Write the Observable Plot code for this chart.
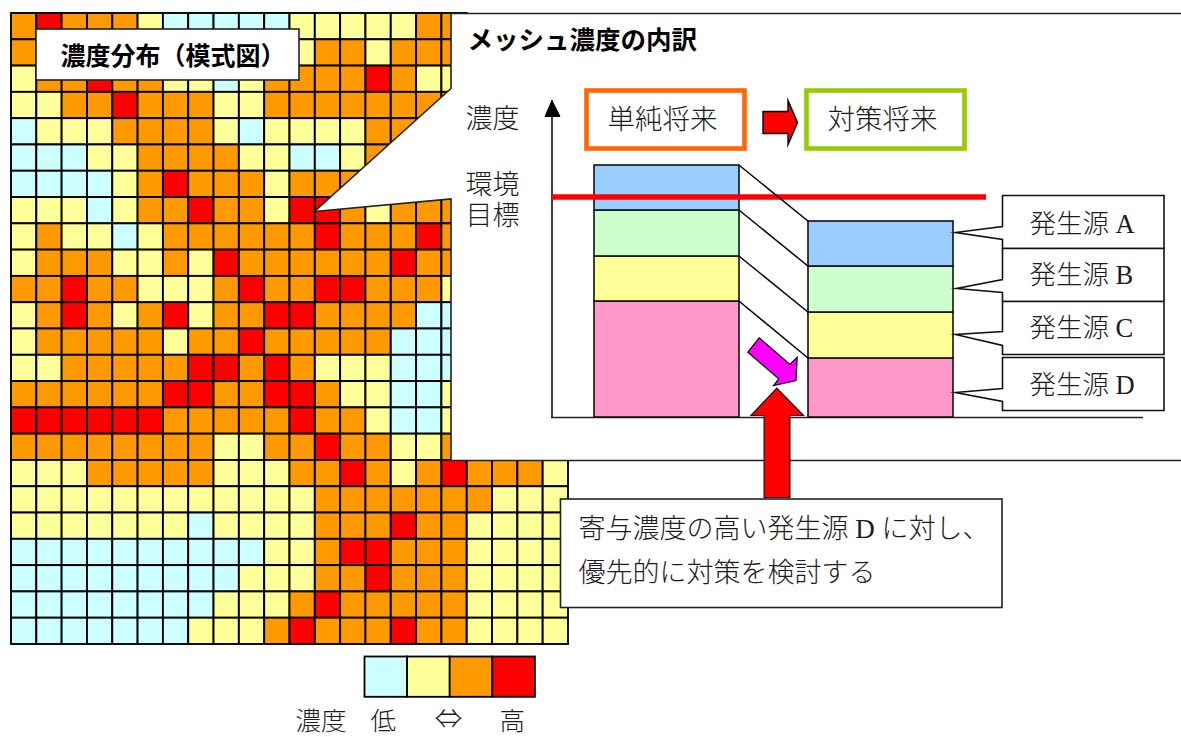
<!DOCTYPE html>
<html lang="ja">
<head>
<meta charset="utf-8">
<script src="https://cdn.jsdelivr.net/npm/d3@7"></script>
<script src="https://cdn.jsdelivr.net/npm/@observablehq/plot@0.6"></script>
<style>
html,body{margin:0;padding:0;background:#fff}
svg{display:block}
</style>
</head>
<body>
<div id="chart"></div>
<script>
// ---------- data ----------
// mesh concentration levels: c = low, y, o, r = high, . = hidden under a label
const meshRows = [
  "oroooycccccyyyyyoo",
  "o..........yooyooo",
  "yoorooyycyooooroyy",
  "yyooroooyyoooooooo",
  "cyyyooooycyyyyoooo",
  "cccyyooooyyccyoooo",
  "ccccyoroooyooooooo",
  "yyycyoorooyrroyooo",
  "yoyycyooooooroooro",
  "yoooyyoyrooooooroo",
  "oorooyyyoroorroooy",
  "yoroyoryoorroooocc",
  "yoooooyooroooooccc",
  "yyooooorroroyyyccc",
  "oooooorroorroyyccy",
  "rrrrrrooooorooyccy",
  "ooooooooyyoorooyyo",
  "yyyoooooyyyooroyoroooy",
  "yyyyyyyyyyyyoooooooyyy",
  "yyyyyyycyyyyooorooyyyy",
  "ccccccccccyyorroooyyyy",
  "cccccccccyyyooroooyyyy",
  "ccccccccyyyoroooooyyyy",
  "cccccccyyyorooorooyyyy"
];
const levels = ["c","y","o","r"];
const sources = ["発生源 D","発生源 C","発生源 B","発生源 A"];
const scenarios = ["単純将来","対策将来"];
const beforeValues = [116,45,46,45];   // D, C, B, A
const afterValues  = [59,46,46,45];    // D, C, B, A
const targetLevel = 220.5;

// ---------- layout ----------
const W = 1181, H = 737;
const grid = {x:11, y:13, cw:557/22, rh:631/24};
const legend = {x:364.5, y:656.5, cw:42.6, h:40.3};
const base = 417;
const barX = {"単純将来":[594,739], "対策将来":[808,953]};
const palette = ["#ccffff","#ffff99","#ff9900","#ff0000","#ff99cc","#ffff99","#ccffcc","#99ccff"];
const edge = "#222";
const jp = "'Liberation Serif','Noto Sans CJK JP','Noto Sans',serif";
const jpBold = "'Noto Sans CJK JP','Noto Sans',sans-serif";

const cells = meshRows.flatMap((row,r)=>[...row].map((k,c)=>({r,c,k}))).filter(d=>d.k!==".");
const stack = scenarios.flatMap((s,i)=>{
  const vals = i? afterValues : beforeValues; let acc = 0;
  return vals.map((v,j)=>{const o={scenario:s,source:sources[j],lo:acc,hi:acc+v}; acc+=v; return o;});
});
const links = sources.map((s,j)=>{
  const a = stack.find(d=>d.scenario===scenarios[0]&&d.source===s);
  const b = stack.find(d=>d.scenario===scenarios[1]&&d.source===s);
  return {x1:barX[scenarios[0]][1],y1:base-a.hi,x2:barX[scenarios[1]][0],y2:base-b.hi};
});

const poly = (pts,o)=>Plot.line(pts.concat([pts[0]]),{x:d=>d[0],y:d=>d[1],strokeLinejoin:"miter",strokeMiterlimit:10,curve:"linear",...o});
const label = (rows,fontSize,extra={})=>Plot.text(rows,{x:d=>d[1],y:d=>d[2],text:d=>d[0],textAnchor:"start",fontSize,fontFamily:jp,fill:"#1c1c1c",fontWeight:300,...extra});
const box = (x1,y1,x2,y2,o)=>Plot.rect([0],{x1:()=>x1,x2:()=>x2,y1:()=>y1,y2:()=>y2,...o});

const srcBoxes = [
  {t:195,b:248,tip:[955,232],a:226,c:239,label:"発生源 A",ty:224},
  {t:248,b:301,tip:[956,288],a:279,c:292,label:"発生源 B",ty:275},
  {t:301,b:354,tip:[955,334],a:331,c:345,label:"発生源 C",ty:328},
  {t:357,b:410,tip:[955,392],a:388,c:401,label:"発生源 D",ty:385}
];

const chart = Plot.plot({
  width:W, height:H, margin:0,
  x:{domain:[0,W],range:[0,W],axis:null},
  y:{domain:[0,H],range:[0,H],axis:null},
  color:{type:"ordinal",domain:[...levels,...sources],range:palette},
  style:{background:"#fff",overflow:"hidden"},
  marks:[
    // mesh
    Plot.rect(cells,{
      x1:d=>grid.x+d.c*grid.cw, x2:d=>grid.x+(d.c+1)*grid.cw,
      y1:d=>grid.y+d.r*grid.rh, y2:d=>grid.y+(d.r+1)*grid.rh,
      fill:"k", stroke:"#000", strokeWidth:1.9
    }),
    // mesh title
    box(36,29,299,80,{fill:"#fff",stroke:edge,strokeWidth:1.6}),
    label([["濃度分布（模式図）",60,56]],25,{fontWeight:700,fill:"#000",fontFamily:jpBold}),
    // breakdown panel with callout
    poly([[450.5,88],[450.5,13],[1183,13],[1183,460],[450.5,460],[450.5,198.5],[314,211]],{fill:"#fff",stroke:edge,strokeWidth:1.6}),
    label([["メッシュ濃度の内訳",467,40]],25.5,{fontWeight:700,fill:"#000",fontFamily:jpBold}),
    // axis
    Plot.ruleX([551.5],{y1:108,y2:418,stroke:"#111",strokeWidth:1.6}),
    poly([[551.5,100],[559.5,116],[544.5,116]],{fill:"#000",stroke:"#000",strokeWidth:1}),
    Plot.ruleY([base],{x1:551,x2:1143,stroke:edge,strokeWidth:1.5}),
    // stacked bars
    Plot.rect(stack,{
      x1:d=>barX[d.scenario][0], x2:d=>barX[d.scenario][1],
      y1:d=>base-d.lo, y2:d=>base-d.hi,
      fill:"source", stroke:"#111", strokeWidth:1.6
    }),
    // target line
    Plot.ruleY([base-targetLevel],{x1:552,x2:986,stroke:"#ff0000",strokeWidth:5.5}),
    // connectors
    Plot.link(links,{x1:"x1",y1:"y1",x2:"x2",y2:"y2",stroke:"#000",strokeWidth:1.5}),
    // scenario boxes
    box(586.5,90.5,744.5,148.5,{fill:"#fff",stroke:"#ff6600",strokeWidth:4.6}),
    box(806.5,90.5,964.5,148.5,{fill:"#fff",stroke:"#99cc00",strokeWidth:4.6}),
    poly([[762.5,111],[787.5,111],[787.5,100],[797,122],[787.5,144],[787.5,133],[762.5,133]],{fill:"#ff0000",stroke:"#000",strokeWidth:1.4}),
    label([[scenarios[0],607,120],[scenarios[1],827,120]],27.5),
    // axis labels
    label([["濃度",465,118],["環境\n目標",465,199]],27,{lineHeight:1.15}),
    // source callouts
    srcBoxes.map(b=>poly([[1002,b.t],[1163.5,b.t],[1163.5,b.b],[1002,b.b],[1002,b.c],[b.tip[0],b.tip[1]],[1002,b.a]],{fill:"#fff",stroke:"#111",strokeWidth:1.6})),
    label(srcBoxes.map(b=>[b.label,1029,b.ty]),26.5),
    // arrows
    poly([[758.7,337.3],[789.4,364],[796.7,356.7],[795.5,380],[773,385],[778.3,378.3],[747.3,351.7]],{fill:"#ff00ff",stroke:"#000",strokeWidth:1.2}),
    // note box
    box(560.5,499,1002,607.5,{fill:"#fff",stroke:edge,strokeWidth:1.6}),
    poly([[776.3,387.7],[803,415],[789.4,415],[789.4,497],[763.6,497],[763.6,415],[750.5,415]],{fill:"#ff0000",stroke:"#111",strokeWidth:1.2}),
    label([["寄与濃度の高い発生源 D に対し、",578,529],["優先的に対策を検討する",578,573]],27),
    // legend
    Plot.rect(levels,{
      x1:(d,i)=>legend.x+i*legend.cw, x2:(d,i)=>legend.x+(i+1)*legend.cw,
      y1:()=>legend.y, y2:()=>legend.y+legend.h,
      fill:d=>d, stroke:"#000", strokeWidth:1.8
    }),
    label([["濃度",295,721.5],["低",370,721.5],["高",499,721.5]],25.5),
    label([["⇔",434,720]],28,{fontFamily:"'Noto Sans CJK JP',sans-serif"})
  ]
});
document.getElementById("chart").append(chart);
</script>
</body>
</html>
